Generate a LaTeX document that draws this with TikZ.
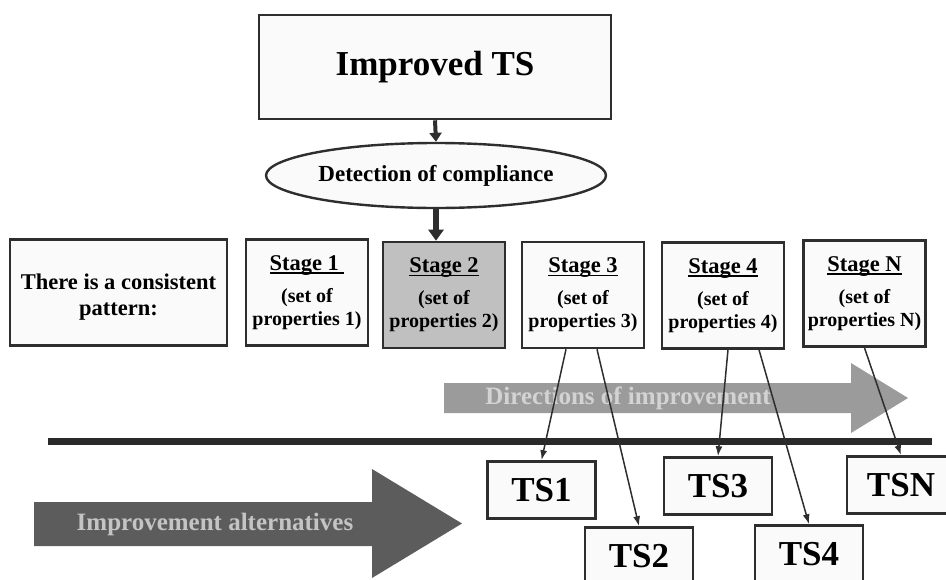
\documentclass[tikz,border=0pt]{standalone}
\usepackage{fontspec}
\setmainfont{Liberation Serif}
\usetikzlibrary{arrows.meta,shapes.geometric,calc}
\definecolor{boxfill}{HTML}{FAFAFA}
\definecolor{stwofill}{HTML}{C0C0C0}
\definecolor{border}{HTML}{2E2E2E}
\definecolor{dirarrow}{HTML}{9B9B9B}
\definecolor{dirtext}{HTML}{D3D3D3}
\definecolor{altarrow}{HTML}{5C5C5C}
\definecolor{alttext}{HTML}{C4C4C4}
\definecolor{hline}{HTML}{2A2A2A}
\newcommand\tsize{\fontsize{22.5}{26}\selectfont}
\newcommand\psize{\fontsize{20}{23}\selectfont}
\newcommand\stul[1]{\setbox0\hbox{#1}\rlap{\rule[-3.5pt]{\wd0}{1.8pt}}\box0}
\tikzset{
  boxbase/.style={draw=border, line width=2.6pt, fill=boxfill, inner sep=0pt, align=center},
  stagebox/.style={boxbase, minimum width=122pt, minimum height=106pt, font=\bfseries\psize},
  tsbox/.style={boxbase, minimum width=108pt, minimum height=57pt, font=\bfseries\fontsize{35}{38}\selectfont},
  conn/.style={draw=border, line width=1.5pt, -{Latex[width=7pt,length=10pt]}},
}
\begin{document}
\begin{tikzpicture}[x=1pt,y=-1pt]
\useasboundingbox (0,0) rectangle (946,579);
\clip (0,0) rectangle (946,579);

% top
\node[boxbase, minimum width=352pt, minimum height=104pt, font=\bfseries\fontsize{35}{40}\selectfont] (IT) at (435,67) {Improved TS};
\node[ellipse, draw=border, line width=2.4pt, fill=boxfill, minimum width=340pt, minimum height=65pt, inner sep=0pt, font=\bfseries\fontsize{23}{26}\selectfont] (DC) at (436,175.5) {Detection of compliance};

% stages row
\node[boxbase, minimum width=217pt, minimum height=106pt] (P) at (118.5,292.5) {};
\node[align=center, inner sep=0pt, font=\bfseries\tsize] (PT) at (118.5,297) {There is a consistent\\pattern:};
\node[stagebox] (S1) at (307,292.5) {{\tsize\stul{Stage 1\ }}\\[9pt](set of\\properties 1)};
\node[stagebox, fill=stwofill] (S2) at (444,295) {{\tsize\stul{Stage 2}}\\[9pt](set of\\properties 2)};
\node[stagebox] (S3) at (583,295) {{\tsize\stul{Stage 3}}\\[9pt](set of\\properties 3)};
\node[stagebox] (S4) at (723,295.5) {{\tsize\stul{Stage 4}}\\[9pt](set of\\properties 4)};
\node[stagebox] (SN) at (864.5,293.5) {{\tsize\stul{Stage N}}\\[9pt](set of\\properties N)};

% top arrows
\draw[draw=border, line width=4pt, -{Triangle[width=12pt,length=9pt]}] (IT.south) -- (DC.north);
\draw[draw=border, line width=6pt, -{Triangle[width=15pt,length=11pt]}] (DC.south) -- (DC.south |- S2.north);

% directions arrow
\fill[dirarrow] (444,383) -- (851,383) -- (851,363) -- (908,398) -- (851,433) -- (851,413) -- (444,413) -- cycle;
\node[font=\bfseries\fontsize{25}{28}\selectfont, text=dirtext] (DT) at (628,398) {Directions of improvement};

% horizontal rule
\coordinate (HL) at (48,441.5);
\coordinate (HR) at (932,441.5);
\draw[hline, line width=6.5pt] (HL) -- (HR);

% improvement alternatives arrow
\fill[altarrow] (34,502) -- (372,502) -- (372,469) -- (462,523.5) -- (372,578) -- (372,546) -- (34,546) -- cycle;
\node[font=\bfseries\fontsize{25}{28}\selectfont, text=alttext] (AT) at (215,524) {Improvement alternatives};

% TS boxes
\node[tsbox] (TS1) at (541.5,490) {TS1};
\node[tsbox] (TS2) at (639,556) {TS2};
\node[tsbox] (TS3) at (718,486) {TS3};
\node[tsbox] (TS4) at (809,554) {TS4};
\node[tsbox] (TSN) at (901,485) {TSN};

% connectors
\draw[conn] ([xshift=-17pt]S3.south) -- (TS1.north);
\draw[conn] ([xshift=14pt]S3.south) -- (TS2.north);
\draw[conn] ([xshift=5pt]S4.south) -- (TS3.north);
\draw[conn] ([xshift=36pt]S4.south) -- (TS4.north);
\draw[conn] (SN.south) -- (TSN.north);
\end{tikzpicture}
\end{document}
